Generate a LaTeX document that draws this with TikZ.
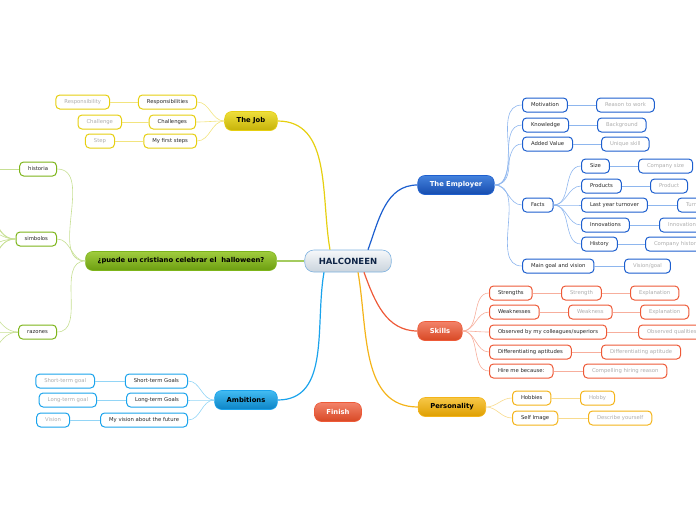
\documentclass[tikz,border=0pt]{standalone}
\usepackage{fontspec}
\setmainfont{DejaVu Sans}

\definecolor{haledge}{HTML}{7FB2E0}
\definecolor{haltop}{HTML}{F6F8FA}
\definecolor{halbot}{HTML}{CAD4DD}
\definecolor{haltext}{HTML}{0E2446}
\definecolor{jobline}{HTML}{F2E47E}
\definecolor{jobedge}{HTML}{E6CF10}
\definecolor{jobtop}{HTML}{EEDF3C}
\definecolor{jobbot}{HTML}{C6B208}
\definecolor{grnline}{HTML}{C6DF92}
\definecolor{grnedge}{HTML}{7DB51A}
\definecolor{grntop}{HTML}{A0CC3E}
\definecolor{grnbot}{HTML}{6C9E10}
\definecolor{ambline}{HTML}{92D5F6}
\definecolor{ambedge}{HTML}{1AA3EC}
\definecolor{ambtop}{HTML}{42BBF2}
\definecolor{ambbot}{HTML}{0C84C6}
\definecolor{empline}{HTML}{8EB6EE}
\definecolor{empedge}{HTML}{1D5FCF}
\definecolor{emptop}{HTML}{4482DD}
\definecolor{empbot}{HTML}{164CAE}
\definecolor{sklline}{HTML}{F7AE9C}
\definecolor{skledge}{HTML}{EE5A38}
\definecolor{skltop}{HTML}{F2836A}
\definecolor{sklbot}{HTML}{D84824}
\definecolor{perline}{HTML}{F8DB8E}
\definecolor{peredge}{HTML}{F4B41A}
\definecolor{pertop}{HTML}{F7C848}
\definecolor{perbot}{HTML}{DE9E00}

\tikzset{
  topic/.style={draw, rounded corners=7pt, minimum height=19pt, inner xsep=12pt, inner ysep=0pt, line width=0.6pt, font=\bfseries\fontsize{6.8}{8}\selectfont},
  sub/.style={draw, rounded corners=4pt, fill=white, minimum height=14pt, inner xsep=8.5pt, inner ysep=0pt, line width=1pt, font=\fontsize{5.3}{6}\selectfont, text=black!85},
  leaf/.style={sub, text=black!32},
  branch/.style={line width=1.2pt},
  twig/.style={line width=0.6pt},
  stem/.style={line width=1pt},
}

\begin{document}
\begin{tikzpicture}[x=1pt, y=-1pt]
  \useasboundingbox (0,0) rectangle (696,520);
  \clip (0,0) rectangle (696,520);

  % centre and main topics
  \node[topic, draw=haledge, top color=haltop, bottom color=halbot, text=haltext, rounded corners=9pt, minimum height=22pt, inner xsep=14pt, font=\bfseries\fontsize{8.5}{10}\selectfont] (hal) at (348,261) {HALCONEEN};
  \node[topic, draw=jobedge, top color=jobtop, bottom color=jobbot] (job) at (251,121) {The Job};
  \node[topic, draw=grnedge, top color=grntop, bottom color=grnbot] (cris) at (181,261) {¿puede un cristiano celebrar el~ halloween?};
  \node[topic, draw=ambedge, top color=ambtop, bottom color=ambbot] (amb) at (246,400) {Ambitions};
  \node[topic, draw=skledge, top color=skltop, bottom color=sklbot, text=white] (fin) at (338,412) {Finish};
  \node[topic, draw=empedge, top color=emptop, bottom color=empbot, text=white] (emp) at (456,185) {The Employer};
  \node[topic, draw=skledge, top color=skltop, bottom color=sklbot, text=white] (skl) at (440,331) {Skills};
  \node[topic, draw=peredge, top color=pertop, bottom color=perbot] (per) at (452,407) {Personality};

  \draw[branch, jobedge] ([xshift=-18pt]hal.north) to[out=100,in=0] (job.east);
  \draw[branch, empedge] ([xshift=20pt]hal.north) to[out=70,in=180] (emp.west);
  \draw[branch, grnedge!70] (hal.west) -- (cris.east);
  \draw[branch, ambedge] ([xshift=-24pt]hal.south) to[out=-100,in=0] (amb.east);
  \draw[branch, skledge] ([xshift=16pt]hal.south) to[out=-70,in=180] (skl.west);
  \draw[branch, peredge] ([xshift=10pt]hal.south) to[out=-80,in=180] (per.west);

  % The Job
  \node[sub, draw=jobedge, anchor=east] (resp) at (197,102) {Responsibilities};
  \node[sub, draw=jobedge, anchor=east] (chal) at (196,122) {Challenges};
  \node[sub, draw=jobedge, anchor=east] (steps) at (197,141) {My first steps};
  \node[leaf, draw=jobedge, anchor=east] (respx) at (110,102) {Responsibility};
  \node[leaf, draw=jobedge, anchor=east] (chalx) at (122,122) {Challenge};
  \node[leaf, draw=jobedge, anchor=east] (stepx) at (115,141) {Step};
  \foreach \n in {resp,chal,steps}
    \draw[twig, jobline] (job.west) to[out=180,in=0] (\n.east);
  \draw[stem, jobline] (resp) -- (respx);
  \draw[stem, jobline] (chal) -- (chalx);
  \draw[stem, jobline] (steps) -- (stepx);

  % cristiano
  \node[sub, draw=grnedge, anchor=east] (histo) at (57,169) {historia};
  \node[sub, draw=grnedge, anchor=east] (simb) at (57,239) {simbolos};
  \node[sub, draw=grnedge, anchor=east] (raz) at (57,332) {razones};
  \foreach \n in {histo,simb,raz}
    \draw[twig, grnline] (cris.west) to[out=180,in=0] (\n.east);
  \coordinate (h1) at (-30,169);
  \draw[stem, grnline] (histo) -- (h1);
  \foreach \i/\y in {1/150,2/190,3/222,4/250,5/280,6/320} {
    \coordinate (s\i) at (-30,\y);
    \draw[twig, grnline] (simb.west) to[out=180,in=0] (s\i);
  }
  \foreach \i/\y in {1/295,2/332,3/370} {
    \coordinate (r\i) at (-30,\y);
    \draw[twig, grnline] (raz.west) to[out=180,in=0] (r\i);
  }

  % Ambitions
  \node[sub, draw=ambedge, anchor=east] (stg) at (188,381) {Short-term Goals};
  \node[sub, draw=ambedge, anchor=east] (ltg) at (188,400) {Long-term Goals};
  \node[sub, draw=ambedge, anchor=east] (vis) at (188,420) {My vision about the future};
  \node[leaf, draw=ambedge, anchor=east] (stgx) at (95,381) {Short-term goal};
  \node[leaf, draw=ambedge, anchor=east] (ltgx) at (97,400) {Long-term goal};
  \node[leaf, draw=ambedge, anchor=east] (visx) at (70,420) {Vision};
  \foreach \n in {stg,ltg,vis}
    \draw[twig, ambline] (amb.west) to[out=180,in=0] (\n.east);
  \draw[stem, ambline] (stg) -- (stgx);
  \draw[stem, ambline] (ltg) -- (ltgx);
  \draw[stem, ambline] (vis) -- (visx);

  % The Employer
  \node[sub, draw=empedge, anchor=west] (motiv) at (522,105) {Motivation};
  \node[sub, draw=empedge, anchor=west] (know) at (522,125) {Knowledge};
  \node[sub, draw=empedge, anchor=west] (added) at (522,144) {Added Value};
  \node[sub, draw=empedge, anchor=west] (facts) at (522,205) {Facts};
  \node[sub, draw=empedge, anchor=west] (goal) at (522,266) {Main goal and vision};
  \node[leaf, draw=empedge, anchor=west] (motivx) at (596,105) {Reason to work};
  \node[leaf, draw=empedge, anchor=west] (knowx) at (597,125) {Background};
  \node[leaf, draw=empedge, anchor=west] (addedx) at (601,144) {Unique skill};
  \node[leaf, draw=empedge, anchor=west] (goalx) at (624,266) {Vision/goal};
  \foreach \n in {motiv,know,added,facts,goal}
    \draw[twig, empline] (emp.east) to[out=0,in=180] (\n.west);
  \draw[stem, empline] (motiv) -- (motivx);
  \draw[stem, empline] (know) -- (knowx);
  \draw[stem, empline] (added) -- (addedx);
  \draw[stem, empline] (goal) -- (goalx);

  \node[sub, draw=empedge, anchor=west] (size) at (581,166) {Size};
  \node[sub, draw=empedge, anchor=west] (prod) at (581,186) {Products};
  \node[sub, draw=empedge, anchor=west] (turn) at (581,205) {Last year turnover};
  \node[sub, draw=empedge, anchor=west] (innov) at (581,225) {Innovations};
  \node[sub, draw=empedge, anchor=west] (hist) at (581,244) {History};
  \node[leaf, draw=empedge, anchor=west] (sizex) at (638,166) {Company size};
  \node[leaf, draw=empedge, anchor=west] (prodx) at (650,186) {Product};
  \node[leaf, draw=empedge, anchor=west] (turnx) at (677,205) {Turnover};
  \node[leaf, draw=empedge, anchor=west] (innovx) at (659,225) {Innovation};
  \node[leaf, draw=empedge, anchor=west] (histx) at (645,244) {Company history};
  \foreach \n in {size,prod,turn,innov,hist}
    \draw[twig, empline] (facts.east) to[out=0,in=180] (\n.west);
  \draw[stem, empline] (size) -- (sizex);
  \draw[stem, empline] (prod) -- (prodx);
  \draw[stem, empline] (turn) -- (turnx);
  \draw[stem, empline] (innov) -- (innovx);
  \draw[stem, empline] (hist) -- (histx);

  % Skills
  \node[sub, draw=skledge, anchor=west] (str) at (489,293) {Strengths};
  \node[sub, draw=skledge, anchor=west] (weak) at (489,312) {Weaknesses};
  \node[sub, draw=skledge, anchor=west] (obs) at (489,332) {Observed by my colleagues/superiors};
  \node[sub, draw=skledge, anchor=west] (diff) at (489,352) {Differentiating aptitudes};
  \node[sub, draw=skledge, anchor=west] (hire) at (489,371) {Hire me because:};
  \node[leaf, draw=skledge, anchor=west] (strx) at (561,293) {Strength};
  \node[leaf, draw=skledge, anchor=west] (strxx) at (630,293) {Explanation};
  \node[leaf, draw=skledge, anchor=west] (weakx) at (568,312) {Weakness};
  \node[leaf, draw=skledge, anchor=west] (weakxx) at (640,312) {Explanation};
  \node[leaf, draw=skledge, anchor=west] (obsx) at (638,332) {Observed qualities};
  \node[leaf, draw=skledge, anchor=west] (diffx) at (601,352) {Differentiating aptitude};
  \node[leaf, draw=skledge, anchor=west] (hirex) at (583,371) {Compelling hiring reason};
  \foreach \n in {str,weak,obs,diff,hire}
    \draw[twig, sklline] (skl.east) to[out=0,in=180] (\n.west);
  \draw[stem, sklline] (str) -- (strx);
  \draw[stem, sklline] (strx) -- (strxx);
  \draw[stem, sklline] (weak) -- (weakx);
  \draw[stem, sklline] (weakx) -- (weakxx);
  \draw[stem, sklline] (obs) -- (obsx);
  \draw[stem, sklline] (diff) -- (diffx);
  \draw[stem, sklline] (hire) -- (hirex);

  % Personality
  \node[sub, draw=peredge, anchor=west] (hob) at (512,398) {Hobbies};
  \node[sub, draw=peredge, anchor=west] (self) at (512,418) {Self Image};
  \node[leaf, draw=peredge, anchor=west] (hobx) at (580,398) {Hobby};
  \node[leaf, draw=peredge, anchor=west] (selfx) at (588,418) {Describe yourself};
  \foreach \n in {hob,self}
    \draw[twig, perline] (per.east) to[out=0,in=180] (\n.west);
  \draw[stem, perline] (hob) -- (hobx);
  \draw[stem, perline] (self) -- (selfx);
\end{tikzpicture}
\end{document}
